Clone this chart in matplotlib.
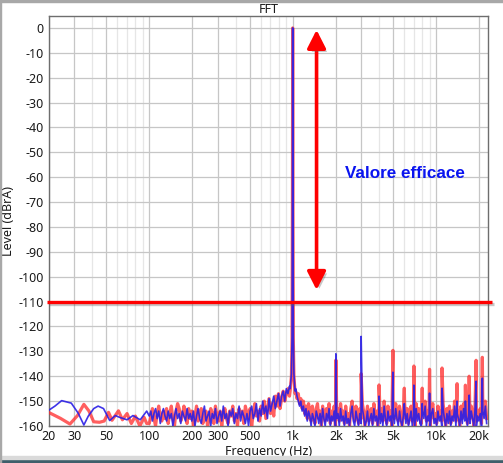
import numpy as np
import matplotlib
matplotlib.use("Agg")
import matplotlib.pyplot as plt
from matplotlib import patheffects as pe
from matplotlib.patches import FancyArrowPatch, Rectangle

plt.rcParams["font.family"] = ["Noto Sans", "DejaVu Sans"]
plt.rcParams["axes.unicode_minus"] = False

# ---- data (levels in dBrA) ----
red_low_f = [20, 24, 28, 31.6, 35, 38, 41, 45, 48.5, 52, 55, 61, 65, 70, 75, 80, 86, 92, 96]
red_low_db = [-154.6, -156.9, -159.2, -155.8, -151.3, -154, -158.3, -158.5, -158, -154.5,
              -157.7, -153.9, -157.5, -155, -159, -156, -160, -156.5, -159]
blue_low_f = [20, 22, 24.5, 28.6, 32, 35, 37.6, 41, 44, 48, 53, 58, 62, 70, 77, 86.5, 96]
blue_low_db = [-153.6, -152, -149.8, -150.8, -154.9, -159.6, -156, -153, -152, -153,
               -157.8, -155.8, -156.5, -157.5, -155.8, -157.5, -154]

# noise floor 100 Hz .. 950 Hz
red_mid_db = [
    -159, -156, -153, -157, -160, -155, -152, -156, -158, -154, -157, -153, -159, -155,
    -152, -157, -160, -154, -151, -153, -158, -156, -152, -155, -159, -153, -157,
    -154, -160, -156, -152, -158, -155, -153, -159, -156, -154, -160, -157, -153, -155,
    -159, -152, -156, -158, -154, -160, -155, -153, -157, -159, -154, -156, -152, -158,
    -155, -160, -153, -156, -154, -159, -152, -155,
    -157, -153, -160, -155, -151, -156, -154, -158, -152, -155, -150, -157, -153, -149,
    -155, -151, -156, -148, -152, -147, -153, -149, -146, -150, -147, -145, -148]
blue_mid_db = [
    -156, -154, -158, -155, -153, -157, -154, -159, -155, -153, -156, -158, -154, -157,
    -155, -160, -156, -153, -157, -155, -159, -154, -156, -158, -153, -157, -155,
    -158, -154, -160, -156, -153, -157, -159, -155, -152, -158, -156, -154, -160, -155,
    -157, -153, -159, -156, -154, -158, -152, -157, -155, -160, -154, -156, -153, -159,
    -155, -157, -152, -158, -154, -156, -159, -155,
    -160, -154, -152, -157, -155, -151, -158, -153, -156, -150, -155, -152, -157, -149,
    -154, -151, -148, -153, -150, -147, -152, -148, -146, -150, -145, -147, -144]

# fundamental at 1 kHz
fund_f = [960, 980, 990, 996, 1000, 1004, 1010, 1020, 1040]
red_fund_db = [-146, -140, -125, -70, 0, -70, -125, -140, -147]
blue_fund_db = [-145, -139, -124, -68, 0, -68, -124, -139, -146]

# noise floor 1.05 kHz .. 22.5 kHz
red_high_db = [
    -146, -149, -147, -151, -149, -153, -150, -155, -152, -157, -151, -154, -158, -152, -156,
    -159, -153, -151, -157, -154, -160, -152, -155, -158, -153, -156, -151, -159, -154, -157,
    -152, -160, -155, -153, -158, -151, -156, -154, -159, -152, -157, -155, -160, -153, -150,
    -156, -158, -152, -155, -159, -153, -157, -151, -154, -160, -156, -152, -158, -155, -153,
    -159, -151, -156, -154, -160, -152, -157, -153, -158, -150, -155, -159, -152, -156, -154,
    -160, -153, -157, -151, -155, -158, -152, -156, -160, -154, -151, -157, -153, -159, -155,
    -152, -158, -154, -160, -151, -156, -153, -157, -159, -152, -155, -150, -158, -154, -156,
    -160, -153, -151, -157, -155, -159, -152, -156, -154, -158, -151, -155, -160, -153, -157,
    -152, -159, -154, -156, -150, -158, -153, -155, -160, -152, -157, -151, -156, -154, -159,
    -153, -157, -152, -155, -160, -151, -158, -154, -156, -153, -159, -152, -155, -150, -157]
blue_high_db = [
    -145, -148, -150, -152, -150, -154, -152, -156, -153, -158, -154, -156, -160, -155, -157,
    -160, -154, -156, -159, -155, -160, -153, -157, -160, -155, -158, -153, -160, -156, -158,
    -154, -160, -157, -155, -160, -153, -158, -156, -160, -154, -159, -157, -160, -155, -152,
    -158, -160, -154, -157, -160, -155, -159, -153, -156, -160, -158, -154, -160, -157, -155,
    -160, -153, -158, -156, -160, -154, -159, -155, -160, -152, -157, -160, -154, -158, -156,
    -160, -155, -159, -153, -157, -160, -154, -158, -160, -156, -153, -159, -155, -160, -157,
    -154, -160, -156, -160, -153, -158, -155, -159, -160, -154, -157, -152, -160, -156, -158,
    -160, -155, -153, -159, -157, -160, -154, -158, -156, -160, -153, -157, -160, -155, -159,
    -154, -160, -156, -158, -152, -160, -155, -157, -160, -154, -159, -153, -158, -156, -160,
    -155, -159, -154, -157, -160, -153, -160, -156, -158, -155, -160, -154, -157, -152, -159]

# harmonic spurs
harm_f = [2000, 3000, 4000, 5000, 6000, 7000, 8000, 9000, 11000, 14000, 16000, 17000, 19000, 21000]
red_harm_db = [-133.5, -139, -143.5, -129.6, -144.8, -135.9, -144.8, -137.2, -136.7,
               -143, -143.6, -140, -133.6, -132.4]
blue_harm_db = [-131, -124, -148, -138.4, -151, -143.6, -151, -146.8, -144.8,
                -150, -150, -147.6, -142, -140.8]

xticks = [20, 30, 50, 100, 200, 300, 500, 1000, 2000, 3000, 5000, 10000, 20000]
xtick_labels = ["20", "30", "50", "100", "200", "300", "500", "1k", "2k", "3k", "5k", "10k", "20k"]
xminor = [40, 60, 70, 80, 90, 400, 600, 700, 800, 900, 4000, 6000, 7000, 8000, 9000]
yticks = list(range(0, -161, -10))

ref_level = -110
arrow_f = 1467
arrow_top, arrow_bottom = -0.8, -105.3


def build_trace(low_f, low_db, mid_db, fund_db, high_db, harm_db):
    f = np.concatenate([low_f, np.geomspace(100, 950, len(mid_db)), fund_f,
                        np.geomspace(1050, 22500, len(high_db)), harm_f])
    d = np.concatenate([low_db, mid_db, fund_db, high_db, harm_db])
    o = np.argsort(f)
    return f[o], d[o]


fig = plt.figure(figsize=(5.03, 4.63), dpi=100)
ax = fig.add_axes([49 / 503, 37 / 463, 439 / 503, 410 / 463])

rf, rd = build_trace(red_low_f, red_low_db, red_mid_db, red_fund_db, red_high_db, red_harm_db)
bf, bd = build_trace(blue_low_f, blue_low_db, blue_mid_db, blue_fund_db, blue_high_db, blue_harm_db)
ax.plot(rf, rd, color="#ff2a2a", lw=2.3, alpha=0.75, zorder=3)
ax.plot(bf, bd, color="#2a1ee6", lw=1.2, alpha=0.9, zorder=4)

ax.set_xscale("log")
ax.set_xlim(20, 23000)
ax.set_ylim(-160, 4.8)
ax.set_xticks(xticks)
ax.set_xticklabels(xtick_labels)
ax.set_xticks(xminor, minor=True)
ax.set_xticklabels([], minor=True)
ax.set_yticks(yticks)
ax.set_yticklabels([str(v) for v in yticks])
ax.tick_params(which="both", length=0, labelsize=9, colors="#1a1a1a")
ax.tick_params(axis="y", pad=4)
ax.tick_params(axis="x", pad=3)
ax.grid(which="major", color="#c6c6c6", lw=0.9)
ax.grid(which="minor", axis="x", color="#e6e6e6", lw=0.9)
ax.set_axisbelow(True)
for s in ax.spines.values():
    s.set_color("#6e6e6e")
    s.set_linewidth(1.0)

ax.set_title("FFT", fontsize=9, pad=2, color="#1a1a1a")
ax.set_xlabel("Frequency (Hz)", fontsize=9, labelpad=1, color="#1a1a1a")
ax.set_ylabel("Level (dBrA)", fontsize=9, labelpad=2, color="#1a1a1a")

# reference line at -110 dB, slightly wider than the plot area
shadow_line = [pe.SimpleLineShadow(offset=(1.5, -1.5), alpha=0.35, shadow_color="#606060"), pe.Normal()]
ax.plot([-0.005, 1.009], [ref_level, ref_level], transform=ax.get_yaxis_transform(),
        color="#ff0000", lw=2.4, clip_on=False, zorder=6, solid_capstyle="butt",
        path_effects=shadow_line)

arrow = FancyArrowPatch((arrow_f, arrow_bottom), (arrow_f, arrow_top),
                        arrowstyle="<|-|>,head_length=0.55,head_width=0.28",
                        mutation_scale=20, color="#ff0000", lw=2.6,
                        shrinkA=0, shrinkB=0, zorder=6,
                        path_effects=[pe.SimplePatchShadow(offset=(2, -2), alpha=0.35,
                                                           shadow_rgbFace="#606060"),
                                      pe.Normal()])
ax.add_patch(arrow)

ax.text(2320, -58.7, "Valore efficace", color="#0a14f0", fontsize=12.3,
        fontweight="bold", family=["Liberation Sans", "DejaVu Sans"],
        ha="left", va="center", zorder=7)

# window chrome around the screenshot
fig.patches.append(Rectangle((0, 0), 1, 4 / 463, transform=fig.transFigure,
                             color="#3f5f6b", zorder=0))
fig.patches.append(Rectangle((0, 4 / 463), 1, 3 / 463, transform=fig.transFigure,
                             color="#dadada", zorder=0))
fig.patches.append(Rectangle((0, 0), 1 / 503, 1, transform=fig.transFigure,
                             color="#a8a8a8", zorder=0))
fig.patches.append(Rectangle((0, 1 - 1.5 / 463), 1, 1.5 / 463, transform=fig.transFigure,
                             color="#a8a8a8", zorder=0))

fig.savefig("out.png", dpi=100)
